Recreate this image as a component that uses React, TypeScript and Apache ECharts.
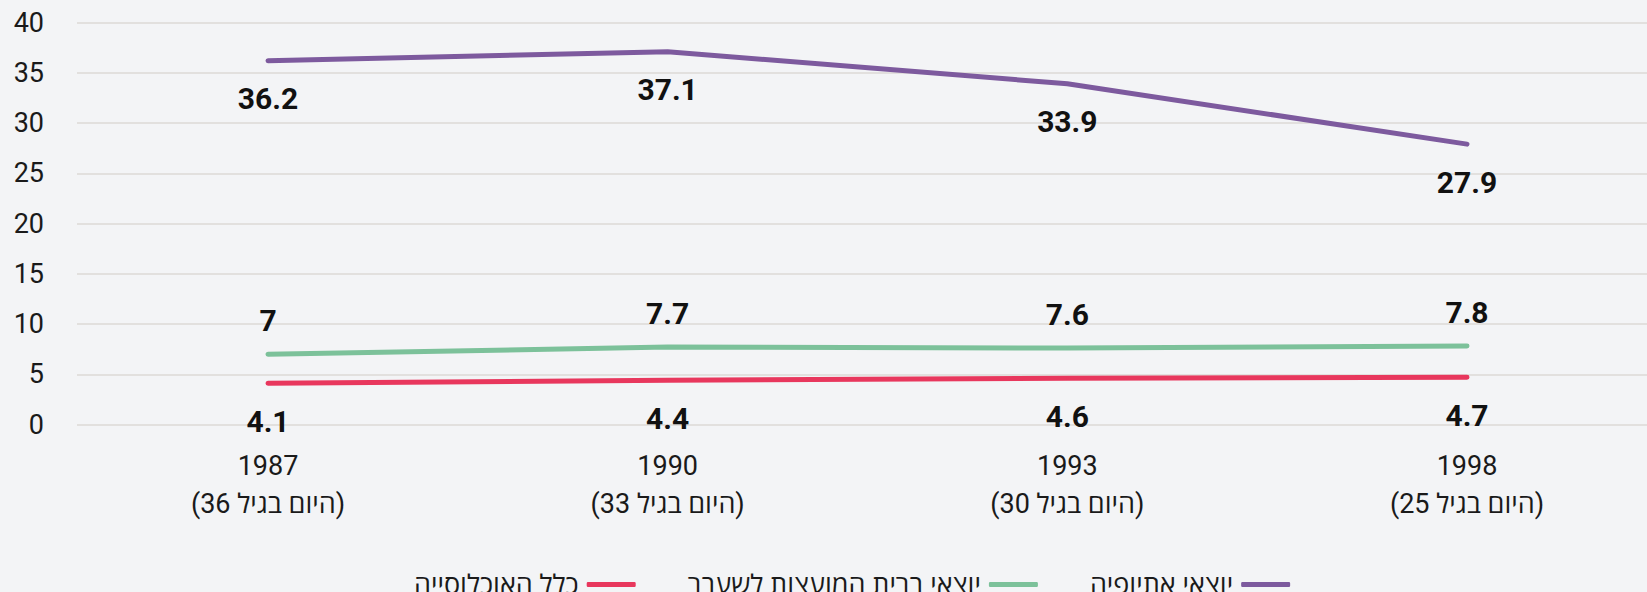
import React, { useEffect, useRef } from "react";
import * as echarts from "echarts";

const years = ["1987", "1990", "1993", "1998"];
const ageNotes = ["(היום בגיל 36)", "(היום בגיל 33)", "(היום בגיל 30)", "(היום בגיל 25)"];
const ethiopia = [36.2, 37.1, 33.9, 27.9];
const formerUSSR = [7, 7.7, 7.6, 7.8];
const totalPop = [4.1, 4.4, 4.6, 4.7];
const seriesNames = ["כלל האוכלוסייה", "יוצאי ברית המועצות לשעבר", "יוצאי אתיופיה"];
const colors = { red: "#e8375d", green: "#7cc19a", purple: "#7d5a9e" };

const FONT = "Roboto, 'Open Sans', 'Noto Sans', sans-serif";

export default function App() {
  const ref = useRef<HTMLDivElement>(null);
  useEffect(() => {
    if (!ref.current) return;
    const chart = echarts.init(ref.current, null, { renderer: "svg" });
    const gridTop = 22.5;
    const gridBottom = 592 - 424.5;
    const labelStyle = { fontFamily: FONT, fontSize: 30, fontWeight: "bold" as const, color: "#111" };
    const mkSeries = (name: string, data: number[], color: string, pos: string, dist: number) => ({
      name,
      type: "line",
      xAxisIndex: 1,
      yAxisIndex: 1,
      data,
      symbol: "circle",
      symbolSize: 2,
      showSymbol: true,
      color,
      itemStyle: { color },
      lineStyle: { width: 5, color, cap: "round" },
      label: { show: true, position: pos, distance: dist, ...labelStyle },
    });
    chart.setOption({
      animation: false,
      backgroundColor: "#f3f4f6",
      textStyle: { fontFamily: FONT },
      grid: [
        { left: 77, right: 0, top: gridTop, bottom: gridBottom },
        { left: 268, right: 180, top: gridTop, bottom: gridBottom },
      ],
      xAxis: [
        { gridIndex: 0, type: "value", show: false, min: 0, max: 1 },
        {
          gridIndex: 1,
          type: "category",
          boundaryGap: false,
          data: years,
          axisLine: { show: false },
          axisTick: { show: false },
          splitLine: { show: false },
          axisLabel: {
            fontFamily: FONT,
            fontSize: 27,
            color: "#1a1a1a",
            lineHeight: 38,
            margin: 22,
            formatter: (v: string, i: number) => `${v}\n${ageNotes[i]}`,
          },
        },
      ],
      yAxis: [
        {
          gridIndex: 0,
          type: "value",
          min: 0,
          max: 40,
          interval: 5,
          axisLine: { show: false },
          axisTick: { show: false },
          axisLabel: { fontFamily: FONT, fontSize: 27, color: "#1a1a1a", margin: 33 },
          splitLine: { lineStyle: { color: "#dcdad6", width: 1.5 } },
        },
        { gridIndex: 1, type: "value", min: 0, max: 40, show: false },
      ],
      legend: {
        data: seriesNames,
        left: 409,
        top: 566,
        align: "right",
        icon: "roundRect",
        itemWidth: 49,
        itemHeight: 5,
        itemGap: 52,
        textStyle: { fontFamily: FONT, fontSize: 27, color: "#1a1a1a", padding: [0, 3, 0, 0] },
      },
      series: [
        mkSeries(seriesNames[0], totalPop, colors.red, "bottom", 22),
        mkSeries(seriesNames[1], formerUSSR, colors.green, "top", 18),
        mkSeries(seriesNames[2], ethiopia, colors.purple, "bottom", 22),
      ],
    });
    return () => chart.dispose();
  }, []);
  return (
    <div
      ref={ref}
      style={{ position: "fixed", left: 0, top: 0, width: 1647, height: 592, background: "#f3f4f6" }}
    />
  );
}
